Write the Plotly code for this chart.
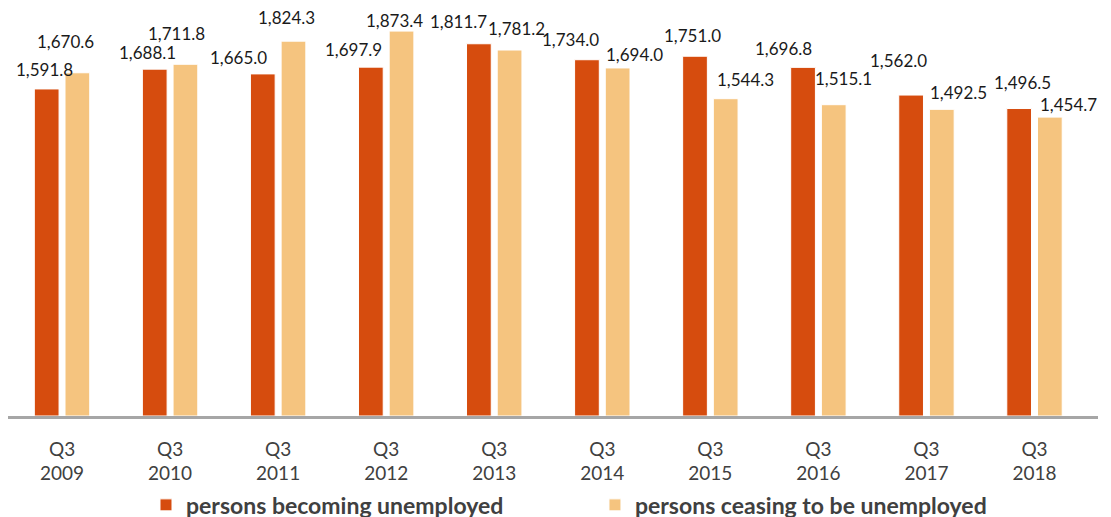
import plotly.graph_objects as go

# ---- data ----
quarters = ["Q3", "Q3", "Q3", "Q3", "Q3", "Q3", "Q3", "Q3", "Q3", "Q3"]
years = ["2009", "2010", "2011", "2012", "2013", "2014", "2015", "2016", "2017", "2018"]
becoming = [1591.8, 1688.1, 1665.0, 1697.9, 1811.7, 1734.0, 1751.0, 1696.8, 1562.0, 1496.5]
ceasing = [1670.6, 1711.8, 1824.3, 1873.4, 1781.2, 1694.0, 1544.3, 1515.1, 1492.5, 1454.7]
series_names = ["persons becoming unemployed", "persons ceasing to be unemployed"]

# ---- label placement (pixel offsets from bar top centre, as in the original) ----
becoming_dx = [-2, -7, -24, -17.5, -20, -16.5, -2, -19.5, -12, 3.5]
becoming_dy = [19, 17, 16, 18, 22, 20, 21, 18.5, 35, 26]
ceasing_dx = [-12, -9.5, -7.5, -7.5, 7, 17, 20, 10, 16.5, 18.5]
ceasing_dy = [31, 31, 23.5, 11, 21.5, 13, 19, 26.5, 16.5, 13]

DARK = "#D64C0E"
LIGHT = "#F5C47F"
BAR_HALF_OFFSET = 15.5
FONT = "Lato"
LABEL_SIZE = 17

categories = [f"{q}<br>{y}" for q, y in zip(quarters, years)]

fig = go.Figure()
fig.add_trace(go.Bar(
    x=categories, y=becoming, name=series_names[0],
    marker=dict(color=DARK, line=dict(color="white", width=1)),
    legend="legend", hoverinfo="x+y",
))
fig.add_trace(go.Bar(
    x=categories, y=ceasing, name=series_names[1],
    marker=dict(color=LIGHT, line=dict(color="white", width=1)),
    legend="legend2", hoverinfo="x+y",
))

annotations = []
for cat, v, dx, dy in zip(categories, becoming, becoming_dx, becoming_dy):
    annotations.append(dict(x=cat, y=v, xref="x", yref="y", text=f"{v:,.1f}",
                            showarrow=False, xanchor="center", yanchor="middle",
                            xshift=-BAR_HALF_OFFSET + dx, yshift=dy, borderpad=0,
                            font=dict(family=FONT, size=LABEL_SIZE, color="#1a1a1a")))
for cat, v, dx, dy in zip(categories, ceasing, ceasing_dx, ceasing_dy):
    annotations.append(dict(x=cat, y=v, xref="x", yref="y", text=f"{v:,.1f}",
                            showarrow=False, xanchor="center", yanchor="middle",
                            xshift=BAR_HALF_OFFSET + dx, yshift=dy, borderpad=0,
                            font=dict(family=FONT, size=LABEL_SIZE, color="#1a1a1a")))

legend_font = dict(family=FONT, size=23, color="#404040", weight="bold")

fig.update_layout(
    width=1111, height=517,
    margin=dict(l=0, r=21, t=2, b=109, autoexpand=False),
    paper_bgcolor="white", plot_bgcolor="white",
    barmode="group", bargap=0.432, bargroupgap=0.194,
    font=dict(family=FONT),
    xaxis=dict(type="category", showline=True, linecolor="#a6a6a6", linewidth=2.5,
               ticks="", showgrid=False, zeroline=False, automargin=False,
               ticklabelstandoff=14,
               tickfont=dict(family=FONT, size=19, color="#404040")),
    yaxis=dict(range=[0, 1976], visible=False, showgrid=False, zeroline=False,
               automargin=False),
    showlegend=True,
    legend=dict(orientation="h", xref="paper", yref="paper",
                x=0.1266, y=-0.219, xanchor="left", yanchor="middle",
                font=legend_font, bgcolor="rgba(0,0,0,0)"),
    legend2=dict(orientation="h", xref="paper", yref="paper",
                 x=0.5385, y=-0.219, xanchor="left", yanchor="middle",
                 font=legend_font, bgcolor="rgba(0,0,0,0)"),
    annotations=annotations,
)

fig.write_html("out.html")
